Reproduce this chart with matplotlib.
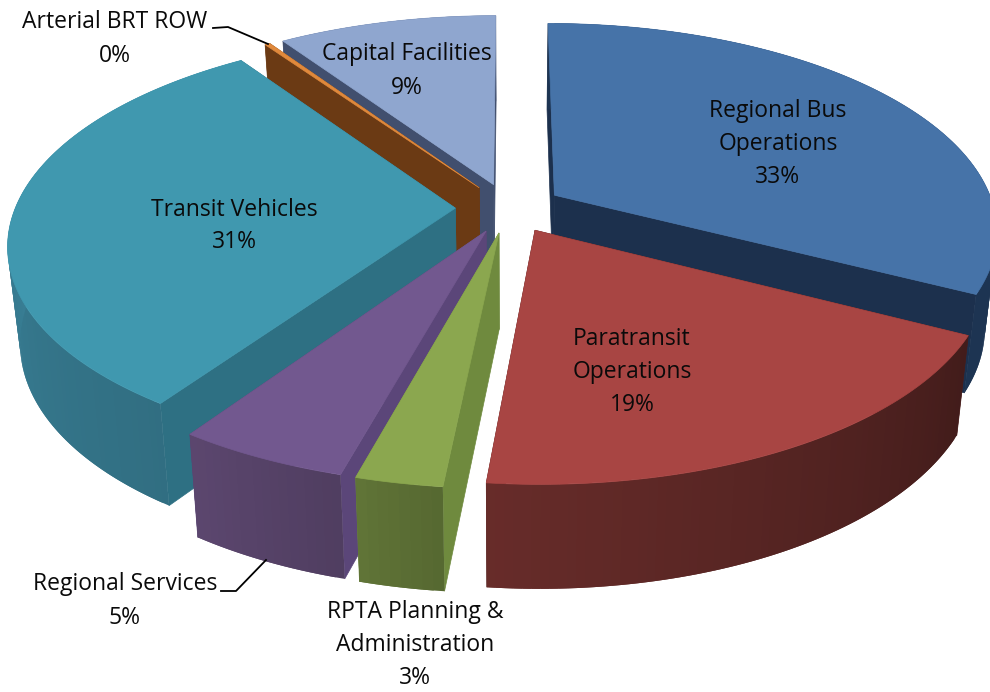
import numpy as np
import matplotlib
matplotlib.use("Agg")
import matplotlib.pyplot as plt
from matplotlib.patches import Polygon

categories = ["Regional Bus\nOperations", "Paratransit\nOperations", "RPTA Planning &\nAdministration",
              "Regional Services", "Transit Vehicles", "Arterial BRT ROW", "Capital Facilities"]
values = [32.6, 19.0, 2.65, 5.25, 30.85, 0.22, 9.43]
pct_labels = ["33%", "19%", "3%", "5%", "31%", "0%", "9%"]
top_colors = ["#4673A8", "#A84543", "#8BA74F", "#72588F", "#4098AF", "#E0893C", "#8FA6CF"]
radial_colors = ["#1C304D", "#4C1D1B", "#6F8A3E", "#5B4679", "#2E7083", "#6B3A14", "#414F6E"]
outer_colors = ["#1D3452", "#5C2725", "#5B6E34", "#574369", "#3A8299", "#6B3A14", "#414F6E"]
tone_start = [1.0, 0.72, 0.95, 0.92, 0.85, 1.0, 1.0]
tone_end = [1.0, 1.12, 1.05, 1.05, 1.08, 1.0, 1.0]
label_xy = [(778, 144), (632, 372), (415, 645), (125, 601), (234, 226), (115, 39), (407, 71)]

fig = plt.figure(figsize=(9.9, 6.92), dpi=100)
ax = fig.add_axes([0, 0, 1, 1])
ax.set_xlim(0, 990)
ax.set_ylim(692, 0)
ax.axis("off")

CX, CY, RX, RY, K, DEPTH, EXPL, ROT = 509, 208, 440, 204, 0.165, 95, 0.122, 0.0

def proj(u, v, z=0.0):
    d = 1 + K * v
    sx = 1 - 0.025 * z
    return (CX + RX * u / d * sx, CY - RY * v / d + DEPTH * z * (1 - 0.09 * v))

fr = np.array(values) / sum(values)
edges = np.concatenate([[0], np.cumsum(fr)]) * 2 * np.pi + ROT

def shade(col, f):
    c = np.array(matplotlib.colors.to_rgb(col)) * f
    return tuple(np.clip(c, 0, 1))

def quad(pts, col, z):
    ax.add_patch(Polygon(pts, closed=True, fc=col, ec=col, lw=0.5, zorder=z))

order = [0, 6, 5, 4, 3, 1, 2]
for rank, i in enumerate(order):
    a0, a1 = edges[i], edges[i + 1]
    mid = (a0 + a1) / 2
    ou, ov = EXPL * np.sin(mid), EXPL * np.cos(mid)
    th = np.linspace(a0, a1, max(int((a1 - a0) * 60), 4))
    au, av = ou + np.sin(th), ov + np.cos(th)
    z = 10 + rank * 5
    # radial faces
    for ang_u, ang_v in ((au[0], av[0]), (au[-1], av[-1])):
        quad([proj(ou, ov), proj(ang_u, ang_v), proj(ang_u, ang_v, 1), proj(ou, ov, 1)], radial_colors[i], z)
    # outer strip, drawn in overlapping steps so no seams appear
    n = len(th) - 1
    for j in range(n):
        tone = tone_start[i] + (tone_end[i] - tone_start[i]) * j / max(n - 1, 1)
        k = min(j + 2, n)
        p = [proj(au[j], av[j])] + [proj(au[m], av[m]) for m in range(j + 1, k + 1)]
        p += [proj(au[m], av[m], 1) for m in range(k, j - 1, -1)]
        ax.add_patch(Polygon(p, closed=True, fc=shade(outer_colors[i], tone), ec="none", zorder=z + 1 + j * 0.001))
    # top
    top = [proj(ou, ov)] + [proj(a, b) for a, b in zip(au, av)]
    quad(top, top_colors[i], z + 2)

font = "Open Sans"
for name, pct, (x, y) in zip(categories, pct_labels, label_xy):
    ax.text(x, y, name + "\n" + pct, ha="center", va="center", fontsize=16.5, family=font,
            color="#0A0A0A", linespacing=1.5, zorder=100)

for xs, ys in (([213, 228, 268], [28, 27, 44]), ([221, 236, 266], [591, 591, 560])):
    ax.plot(xs, ys, color="black", lw=1.3, zorder=90)

fig.savefig("out.png", dpi=100)
